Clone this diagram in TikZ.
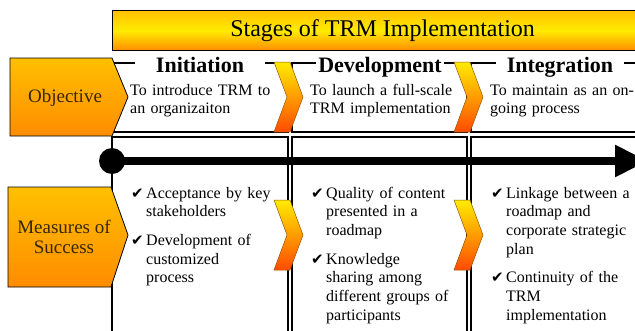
\documentclass[tikz,border=0pt]{standalone}
\usepackage{fontspec}
\setmainfont{Liberation Serif}
\newfontfamily\symfont{DejaVu Sans}
\usetikzlibrary{arrows.meta,positioning}
\definecolor{trmyellow}{HTML}{FFEC00}
\definecolor{trmamber}{HTML}{FFC000}
\definecolor{trmorange}{HTML}{FF8C00}
\definecolor{trmred}{HTML}{FF4A00}
\definecolor{trmbrown}{HTML}{3A2600}
\tikzset{
  x=1pt, y=-1pt,
  stage/.style     = {draw, line width=1.2pt},
  title bar/.style = {draw, line width=1.2pt, top color=trmamber, bottom color=trmorange,
                      middle color=trmyellow, minimum width=540pt, minimum height=40pt,
                      anchor=north west, font=\fontsize{24}{26}\selectfont},
  label box/.style = {draw, line width=0.8pt, top color=trmamber, middle color=trmyellow,
                      bottom color=trmorange},
  chevron/.style   = {draw=trmorange!60!black, line width=0.5pt, top color=trmyellow, bottom color=trmred},
  header/.style    = {fill=white, inner ysep=2pt, inner xsep=#1, anchor=base,
                      font=\fontsize{22}{24}\selectfont\bfseries},
  side/.style      = {font=\fontsize{19}{20}\selectfont, align=center, text=trmbrown},
  goal/.style      = {anchor=base west, text width=160pt, inner sep=0pt, align=left,
                      font=\fontsize{16}{18}\selectfont},
  measure/.style   = {anchor=base west, text width=160pt, inner sep=0pt,
                      font=\fontsize{16}{18.7}\selectfont},
  timeline/.style  = {line width=8.5pt, -{Triangle[length=33pt,width=30pt]}},
  pics/chevron/.style = {code={
    \path[chevron] (0,0) -- (16,0) -- (29,35) -- (16,70) -- (0,70) -- (13,35) -- cycle;
  }}
}
\newcommand{\ticksym}{{\symfont\fontsize{15}{15}\selectfont ✔}}
\newcommand{\tick}[1]{\noindent\makebox[15pt][l]{\ticksym}\parbox[t]{140pt}{\raggedright\strut#1\strut}\par}
\newcommand{\tickgap}{\par\vspace{9pt}}

\begin{document}
\begin{tikzpicture}
  \useasboundingbox (0,0) rectangle (635,330);

  % heading bar
  \node[title bar] (title) at (112,10) {Stages of TRM Implementation};

  % stage panels, objective row and measures row
  \draw[stage] (112,63) rectangle (288,132);
  \draw[stage] (292,63) rectangle (467,132);
  \draw[stage] (471,63) rectangle (660,132);
  \draw[stage] (112,137) rectangle (288,345);
  \draw[stage] (292,137) rectangle (467,345);
  \draw[stage] (471,137) rectangle (660,345);

  \node[header=21pt] (init) at (200,72) {Initiation};
  \node[header=2pt]  (dev)  at (380,72) {Development};
  \node[header=11pt] (integ) at (560,72) {Integration};

  \node[goal] (goal1) at (130,95) {To introduce TRM to\\an organizaiton};
  \node[goal] (goal2) at (310,95) {To launch a full-scale\\TRM implementation};
  \node[goal] (goal3) at (490,95) {To maintain as an on-\\going process};

  \node[measure] (meas1) at (131,198) {%
    \tick{Acceptance by key\\stakeholders}\tickgap
    \tick{Development of\\customized\\process}};
  \node[measure] (meas2) at (311,198) {%
    \tick{Quality of content\\presented in a\\roadmap}\tickgap
    \tick{Knowledge\\sharing among\\different groups of\\participants}};
  \node[measure] (meas3) at (491,198) {%
    \tick{Linkage between a\\roadmap and\\corporate strategic\\plan}\tickgap
    \tick{Continuity of the\\TRM\\implementation}};

  % time axis
  \node[circle, fill=black, minimum size=26pt, inner sep=0pt] (start) at (112,161) {};
  \coordinate (finish) at (648,161);
  \draw[timeline] (start.center) -- (finish);

  % row labels
  \path[label box] (10,58) -- (112,58) -- (128,97) -- (112,136) -- (10,136) -- cycle;
  \node[side] (objective) at (65,98) {Objective};
  \path[label box] (8,187) -- (111,187) -- (128,235) -- (111,287) -- (8,287) -- cycle;
  \node[side] (success) at (64,237) {Measures of\\Success};

  % arrows between stages
  \pic at (274,62)  {chevron};
  \pic at (454,62)  {chevron};
  \pic at (274,200) {chevron};
  \pic at (454,200) {chevron};
\end{tikzpicture}
\end{document}
